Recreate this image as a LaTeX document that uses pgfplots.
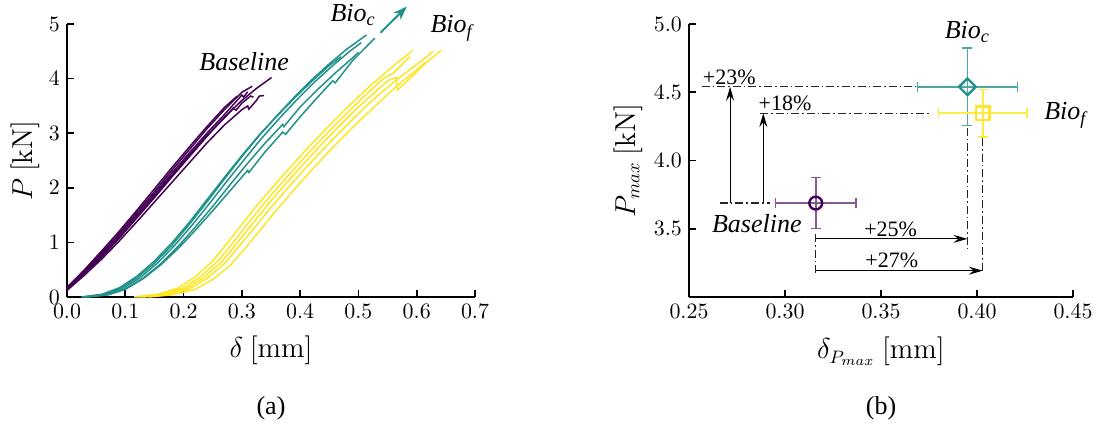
\documentclass[border=0pt]{standalone}
\usepackage[no-math]{fontspec}
\setmainfont{Liberation Serif}
\usepackage{pgfplots}
\pgfplotsset{compat=1.18}
\usetikzlibrary{arrows.meta}

\definecolor{vpurple}{HTML}{440154}
\definecolor{vteal}{HTML}{21918C}
\definecolor{vyellow}{HTML}{FDE725}

% diamond with equal diagonals
\pgfdeclareplotmark{sqdiamond}{%
  \pgfpathmoveto{\pgfqpoint{0pt}{\pgfplotmarksize}}%
  \pgfpathlineto{\pgfqpoint{\pgfplotmarksize}{0pt}}%
  \pgfpathlineto{\pgfqpoint{0pt}{-\pgfplotmarksize}}%
  \pgfpathlineto{\pgfqpoint{-\pgfplotmarksize}{0pt}}%
  \pgfpathclose\pgfusepathqstroke}

\pgfplotsset{
  panel/.style={
    scale only axis,
    axis lines=left,
    axis line style={-, line width=0.8pt},
    tick align=inside,
    major tick length=3.5pt,
    tick style={line width=0.8pt, black},
    ticklabel style={font=\fontsize{11}{12}\selectfont},
    label style={font=\fontsize{13.5}{15}\selectfont},
    clip=false,
  },
}
\tikzset{
  ddash/.style={black!85, line width=0.6pt, dash pattern=on 4pt off 1.5pt on 0.8pt off 1.5pt},
  arr/.style={black, line width=0.6pt, -{Stealth[length=7pt,width=4pt,inset=2.5pt]}},
  lab/.style={font=\fontsize{13}{15}\selectfont\itshape},
  pct/.style={font=\fontsize{11}{13}\selectfont, anchor=south, inner sep=1pt},
}

\begin{document}
\begin{tikzpicture}
\path[use as bounding box] (0,0) rectangle (547.5pt,215pt);

% (a) load-displacement curves
\begin{axis}[
  panel,
  at={(33.5pt,66.5pt)}, anchor=south west,
  width=204pt, height=136.5pt,
  xmin=0, xmax=0.7, ymin=0, ymax=5,
  xtick={0,0.1,0.2,0.3,0.4,0.5,0.6,0.7},
  ytick={0,1,2,3,4,5},
  xticklabel style={/pgf/number format/.cd, fixed, fixed zerofill, precision=1},
  xlabel={$\delta\ [\mathrm{mm}]$},
  ylabel={$P\ [\mathrm{kN}]$},
  xlabel style={at={(axis description cs:0.5,-0.194)}, anchor=center},
  ylabel style={at={(axis description cs:-0.103,0.5)}, anchor=center},
]
% Baseline
\addplot[vpurple, line width=0.75pt] coordinates {(0,0.18)(0.03,0.48)(0.06,0.82)(0.09,1.17)(0.12,1.55)(0.15,1.93)(0.18,2.32)(0.21,2.70)(0.24,3.08)(0.27,3.43)(0.30,3.75)(0.318,3.86)};
\addplot[vpurple, line width=0.75pt] coordinates {(0,0.14)(0.03,0.42)(0.06,0.74)(0.09,1.08)(0.12,1.45)(0.15,1.82)(0.18,2.20)(0.21,2.57)(0.24,2.94)(0.27,3.29)(0.30,3.60)(0.325,3.82)(0.351,4.02)};
\addplot[vpurple, line width=0.75pt] coordinates {(0,0.12)(0.03,0.40)(0.06,0.70)(0.09,1.03)(0.12,1.38)(0.15,1.74)(0.18,2.10)(0.21,2.46)(0.24,2.82)(0.27,3.15)(0.30,3.43)(0.31,3.50)(0.312,3.44)(0.325,3.60)(0.33,3.68)(0.338,3.69)};
\addplot[vpurple, line width=0.75pt] coordinates {(0,0.16)(0.03,0.46)(0.06,0.79)(0.09,1.14)(0.12,1.51)(0.15,1.89)(0.18,2.27)(0.21,2.64)(0.24,3.00)(0.27,3.34)(0.29,3.58)(0.300,3.70)(0.303,3.66)(0.31,3.76)};
\addplot[vpurple, line width=0.75pt] coordinates {(0,0.15)(0.03,0.44)(0.06,0.76)(0.09,1.10)(0.12,1.47)(0.15,1.85)(0.18,2.23)(0.21,2.60)(0.24,2.96)(0.27,3.28)(0.285,3.46)(0.29,3.42)(0.30,3.55)(0.315,3.68)(0.32,3.66)};
\addplot[vpurple, line width=0.75pt] coordinates {(0,0.17)(0.03,0.50)(0.06,0.85)(0.09,1.21)(0.12,1.59)(0.15,1.98)(0.18,2.37)(0.21,2.75)(0.24,3.12)(0.27,3.47)(0.292,3.68)};
% Bio_c
\addplot[vteal, line width=0.75pt] coordinates {(0.025,0)(0.06,0.04)(0.09,0.15)(0.12,0.35)(0.15,0.62)(0.18,0.95)(0.21,1.33)(0.24,1.74)(0.27,2.16)(0.30,2.57)(0.33,2.96)(0.36,3.32)(0.39,3.66)(0.42,3.98)(0.45,4.27)(0.48,4.54)(0.514,4.80)};
\addplot[vteal, line width=0.75pt] coordinates {(0.03,0)(0.065,0.04)(0.095,0.15)(0.125,0.35)(0.155,0.62)(0.185,0.95)(0.215,1.32)(0.245,1.72)(0.275,2.13)(0.305,2.53)(0.335,2.92)(0.365,3.28)(0.395,3.62)(0.425,3.94)(0.455,4.23)(0.485,4.50)(0.505,4.66)};
\addplot[vteal, line width=0.75pt] coordinates {(0.03,0)(0.07,0.04)(0.10,0.14)(0.13,0.33)(0.16,0.58)(0.19,0.88)(0.22,1.22)(0.25,1.58)(0.28,1.95)(0.31,2.32)(0.312,2.28)(0.34,2.66)(0.37,3.02)(0.375,2.98)(0.40,3.30)(0.43,3.66)(0.456,3.96)(0.46,3.92)(0.49,4.33)(0.528,4.74)};
\addplot[vteal, line width=0.75pt] coordinates {(0.025,0)(0.06,0.05)(0.09,0.17)(0.12,0.38)(0.15,0.66)(0.18,0.99)(0.21,1.37)(0.24,1.78)(0.27,2.19)(0.30,2.59)(0.33,2.97)(0.36,3.31)(0.39,3.64)(0.42,3.95)(0.45,4.24)(0.47,4.40)};
\addplot[vteal, line width=0.75pt] coordinates {(0.035,0)(0.07,0.04)(0.10,0.15)(0.13,0.34)(0.16,0.60)(0.19,0.92)(0.22,1.28)(0.25,1.66)(0.28,2.06)(0.31,2.45)(0.34,2.82)(0.37,3.16)(0.372,3.12)(0.40,3.48)(0.43,3.80)(0.46,4.10)(0.49,4.38)(0.50,4.48)};
\addplot[vteal, line width=1pt, -{Stealth[length=7pt,width=5pt]}] coordinates {(0.538,4.84)(0.583,5.32)};
% Bio_f
\addplot[vyellow, line width=0.75pt] coordinates {(0.115,0)(0.155,0.05)(0.19,0.16)(0.22,0.37)(0.25,0.66)(0.27,0.92)(0.30,1.33)(0.33,1.73)(0.36,2.10)(0.39,2.46)(0.42,2.81)(0.45,3.14)(0.48,3.46)(0.51,3.77)(0.54,4.05)(0.565,4.28)(0.594,4.52)};
\addplot[vyellow, line width=0.75pt] coordinates {(0.125,0)(0.165,0.04)(0.205,0.16)(0.235,0.36)(0.265,0.64)(0.285,0.90)(0.315,1.30)(0.345,1.70)(0.375,2.07)(0.405,2.43)(0.435,2.78)(0.465,3.11)(0.495,3.43)(0.525,3.72)(0.55,3.96)(0.565,4.02)(0.567,3.79)(0.59,4.02)(0.615,4.28)(0.642,4.52)};
\addplot[vyellow, line width=0.75pt] coordinates {(0.13,0)(0.17,0.04)(0.21,0.15)(0.24,0.34)(0.27,0.61)(0.29,0.86)(0.32,1.25)(0.35,1.64)(0.38,2.01)(0.41,2.37)(0.44,2.71)(0.47,3.04)(0.50,3.36)(0.53,3.66)(0.56,3.93)(0.59,4.18)(0.61,4.34)(0.628,4.50)};
\addplot[vyellow, line width=0.75pt] coordinates {(0.12,0)(0.16,0.05)(0.20,0.17)(0.23,0.38)(0.26,0.67)(0.28,0.93)(0.31,1.34)(0.34,1.74)(0.37,2.11)(0.40,2.47)(0.43,2.82)(0.46,3.15)(0.49,3.47)(0.52,3.78)(0.545,4.02)(0.56,4.10)(0.588,4.40)};
\addplot[vyellow, line width=0.75pt] coordinates {(0.14,0)(0.18,0.04)(0.22,0.14)(0.25,0.32)(0.28,0.58)(0.30,0.82)(0.33,1.21)(0.36,1.60)(0.39,1.97)(0.42,2.33)(0.45,2.67)(0.48,3.00)(0.51,3.31)(0.54,3.61)(0.57,3.90)(0.60,4.16)(0.615,4.30)};

\node[lab] at (axis cs:0.304,4.31) {Baseline};
\node[lab] at (axis cs:0.491,5.16) {Bio\textsubscript{\textit{c}}};
\node[lab] at (axis cs:0.66,4.92) {Bio\textsubscript{\textit{f}}};
\end{axis}

% (b) peak load vs displacement at peak load
\begin{axis}[
  panel,
  at={(344.5pt,66.5pt)}, anchor=south west,
  width=192pt, height=136.5pt,
  xmin=0.25, xmax=0.45, ymin=3, ymax=5,
  xtick={0.25,0.30,0.35,0.40,0.45},
  ytick={3.5,4.0,4.5,5.0},
  xticklabel style={/pgf/number format/.cd, fixed, fixed zerofill, precision=2},
  yticklabel style={/pgf/number format/.cd, fixed, fixed zerofill, precision=1},
  xlabel={$\delta_{P_{max}}\ [\mathrm{mm}]$},
  ylabel={$P_{max}\ [\mathrm{kN}]$},
  xlabel style={at={(axis description cs:0.5,-0.2)}, anchor=center},
  ylabel style={at={(axis description cs:-0.159,0.5)}, anchor=center},
]
\draw[ddash] (0.266,3.688) -- (0.292,3.688);
\draw[ddash] (0.2566,4.54) -- (0.368,4.54);
\draw[ddash] (0.287,4.347) -- (0.376,4.347);
\draw[ddash] (0.316,3.46) -- (0.316,3.17);
\draw[ddash] (0.395,4.24) -- (0.395,3.35);
\draw[ddash] (0.403,4.165) -- (0.403,3.193);
\draw[arr] (0.2714,3.688) -- (0.2714,4.54);
\draw[arr] (0.2887,3.688) -- (0.2887,4.347);
\draw[arr] (0.316,3.426) -- (0.395,3.426);
\draw[arr] (0.316,3.193) -- (0.403,3.193);

\addplot+[only marks, mark=o, mark size=3.2pt, color=vpurple,
  mark options={line width=1.2pt, vpurple},
  error bars/.cd, x dir=both, y dir=both, x explicit, y explicit,
  error bar style={color=vpurple!65, line width=0.8pt},
  error mark options={rotate=90, mark size=2.5pt, vpurple!65, line width=0.8pt}]
  coordinates {(0.316,3.688) +- (0.021,0.187)};
\addplot+[only marks, mark=sqdiamond, mark size=4.2pt, color=vteal,
  mark options={line width=1.2pt, vteal},
  error bars/.cd, x dir=both, y dir=both, x explicit, y explicit,
  error bar style={color=vteal!80, line width=0.8pt},
  error mark options={rotate=90, mark size=2.5pt, vteal!80, line width=0.8pt}]
  coordinates {(0.395,4.54) +- (0.026,0.285)};
\addplot+[only marks, mark=square, mark size=3.3pt, color=vyellow,
  mark options={line width=1.2pt, vyellow},
  error bars/.cd, x dir=both, y dir=both, x explicit, y explicit,
  error bar style={color=vyellow!85, line width=0.8pt},
  error mark options={rotate=90, mark size=2.5pt, vyellow!85, line width=0.8pt}]
  coordinates {(0.403,4.347) +- (0.023,0.173)};

\node[pct] at (0.271,4.54) {+23\%};
\node[pct] at (0.300,4.347) {+18\%};
\node[pct] at (0.355,3.426) {+25\%};
\node[pct] at (0.3556,3.193) {+27\%};
\node[lab] at (0.2853,3.54) {Baseline};
\node[lab] at (0.395,4.94) {Bio\textsubscript{\textit{c}}};
\node[lab] at (0.446,4.33) {Bio\textsubscript{\textit{f}}};
\end{axis}

\node[font=\fontsize{13}{15}\selectfont] at (135.5pt,11pt) {(a)};
\node[font=\fontsize{13}{15}\selectfont] at (440.5pt,11pt) {(b)};
\end{tikzpicture}
\end{document}
